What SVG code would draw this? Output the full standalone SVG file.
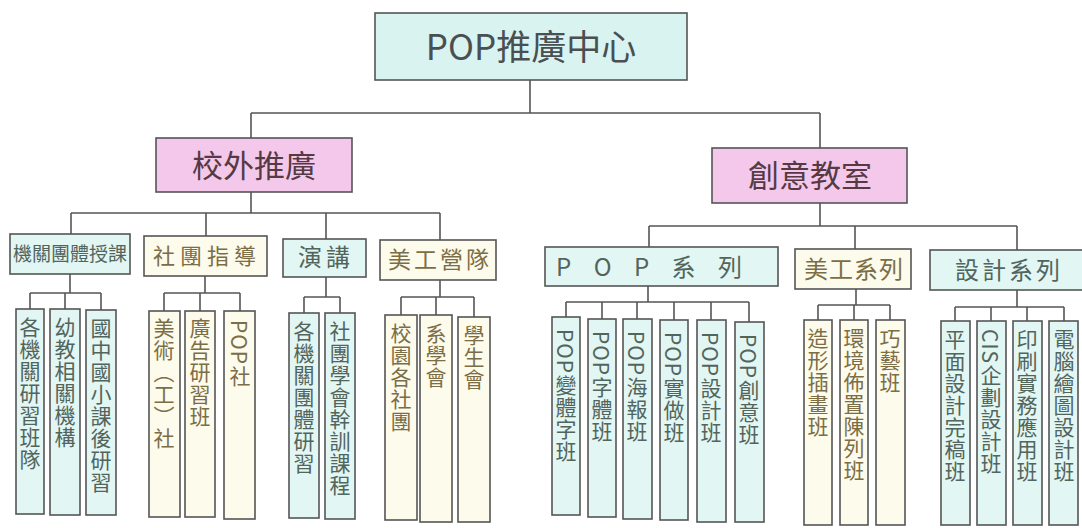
<svg xmlns="http://www.w3.org/2000/svg" width="1082" height="528" viewBox="0 0 1082 528">
<style>
.box{stroke:#555;stroke-width:1.6}
.cy{fill:#e2f6f3}
.cr{fill:#fdfbeb}
.pk{fill:#f4c8ea}
.tp{fill:#d9f3f1}
text{font-family:"Noto Sans CJK TC","Noto Sans CJK SC",sans-serif}
.t1{font-size:35px;fill:#4a4f52;text-anchor:middle}
.t2{font-size:31px;fill:#553a45;text-anchor:middle}
.tc{fill:#52655d;text-anchor:middle}
.tr{fill:#7b6e46;text-anchor:middle}
.v{font-size:21px;writing-mode:vertical-rl;letter-spacing:1px}
.vc{fill:#52655d}
.vr{fill:#7b6e46}
.ln{fill:none;stroke:#555;stroke-width:1.6}
</style>
<rect width="1082" height="528" fill="#fff"/>
<g id="connectors" class="ln">
<path d="M530,80V113M251,113H820M251,113V138M820,113V148"/>
<path d="M251,192V213M71,213H440M71,213V234M206,213V236M326,213V239M440,213V240"/>
<path d="M820,203V226M649,226H1017M649,226V247M855,226V249M1017,226V250"/>
<path d="M70,274V293M30,293H101M30,293V309M65,293V309M101,293V310"/>
<path d="M205,276V293M164,293H240M164,293V311M200,293V311M240,293V311"/>
<path d="M326,277V297M304,297H340M304,297V313M340,297V313"/>
<path d="M440,280V297M401,297H474M401,297V315M436,297V315M474,297V317"/>
<path d="M648,286V302M566,302H749M566,302V317M602,302V319M637,302V319M674,302V320M711,302V320M749,302V322"/>
<path d="M856,289V305M818,305H890M818,305V320M854,305V320M890,305V320"/>
<path d="M1017,290V307M955,307H1064M955,307V321M991,307V321M1027,307V321M1064,307V321"/>
</g>
<g id="root"><rect class="box tp" x="375" y="13" width="312" height="67"/><text class="t1" x="531" y="60">POP推廣中心</text></g>
<g id="n-out"><rect class="box pk" x="156" y="138" width="196" height="54"/><text class="t2" x="254" y="177">校外推廣</text></g>
<g id="n-cre"><rect class="box pk" x="712" y="148" width="195" height="55"/><text class="t2" x="810" y="187">創意教室</text></g>
<g id="a1"><rect class="box cy" x="10" y="234" width="120" height="40"/><text class="tc" x="70" y="261" font-size="19">機關團體授課</text></g>
<g id="a2"><rect class="box cr" x="144" y="236" width="123" height="40"/><text class="tr" x="207" y="264" font-size="22" letter-spacing="5">社團指導</text></g>
<g id="a3"><rect class="box cy" x="283" y="239" width="83" height="38"/><text class="tc" x="326" y="266" font-size="24" letter-spacing="4">演講</text></g>
<g id="a4"><rect class="box cr" x="380" y="240" width="116" height="40"/><text class="tr" x="440" y="268" font-size="23" letter-spacing="3">美工營隊</text></g>
<g id="b1"><rect class="box cy" x="545" y="247" width="233" height="39"/><text class="tc" x="556" y="276" font-size="24" textLength="186" lengthAdjust="spacing" style="text-anchor:start">P O P 系 列</text></g>
<g id="b2"><rect class="box cr" x="795" y="249" width="116" height="40"/><text class="tr" x="854" y="278" font-size="24" letter-spacing="1">美工系列</text></g>
<g id="b3"><rect class="box cy" x="930" y="250" width="160" height="40"/><text class="tc" x="1009" y="279" font-size="24" letter-spacing="3">設計系列</text></g>
<g id="l1"><rect class="box cy" x="16" y="309" width="28" height="205"/><text class="v vc" x="30" y="317">各機關研習班隊</text></g>
<g id="l2"><rect class="box cy" x="50" y="309" width="30" height="206"/><text class="v vc" x="65" y="317">幼教相關機構</text></g>
<g id="l3"><rect class="box cy" x="86" y="310" width="30" height="205"/><text class="v vc" x="101" y="318">國中國小課後研習</text></g>
<g id="l4"><rect class="box cr" x="149" y="311" width="31" height="206"/><text class="v vr" x="164" y="318">美術（工）社</text></g>
<g id="l5"><rect class="box cr" x="185" y="311" width="30" height="206"/><text class="v vr" x="200" y="318">廣告研習班</text></g>
<g id="l6"><rect class="box cr" x="224" y="311" width="31" height="208"/><text class="v vr" x="240" y="320">POP社</text></g>
<g id="l7"><rect class="box cy" x="289" y="313" width="30" height="205"/><text class="v vc" x="304" y="321">各機關團體研習</text></g>
<g id="l8"><rect class="box cy" x="325" y="313" width="30" height="206"/><text class="v vc" x="340" y="321">社團學會幹訓課程</text></g>
<g id="l9"><rect class="box cr" x="385" y="315" width="32" height="205"/><text class="v vr" x="401" y="323">校園各社團</text></g>
<g id="l10"><rect class="box cr" x="420" y="315" width="32" height="207"/><text class="v vr" x="436" y="323">系學會</text></g>
<g id="l11"><rect class="box cr" x="458" y="317" width="32" height="205"/><text class="v vr" x="474" y="325">學生會</text></g>
<g id="l12"><rect class="box cy" x="552" y="317" width="28" height="198"/><text class="v vc" x="566" y="329">POP變體字班</text></g>
<g id="l13"><rect class="box cy" x="588" y="319" width="28" height="198"/><text class="v vc" x="602" y="331">POP字體班</text></g>
<g id="l14"><rect class="box cy" x="623" y="319" width="29" height="200"/><text class="v vc" x="637" y="331">POP海報班</text></g>
<g id="l15"><rect class="box cy" x="660" y="320" width="28" height="200"/><text class="v vc" x="674" y="332">POP實做班</text></g>
<g id="l16"><rect class="box cy" x="697" y="320" width="29" height="202"/><text class="v vc" x="711" y="332">POP設計班</text></g>
<g id="l17"><rect class="box cy" x="735" y="322" width="29" height="200"/><text class="v vc" x="749" y="334">POP創意班</text></g>
<g id="l18"><rect class="box cr" x="804" y="320" width="28" height="205"/><text class="v vr" x="818" y="328">造形插畫班</text></g>
<g id="l19"><rect class="box cr" x="840" y="320" width="28" height="205"/><text class="v vr" x="854" y="328">環境佈置陳列班</text></g>
<g id="l20"><rect class="box cr" x="876" y="320" width="29" height="205"/><text class="v vr" x="890" y="328">巧藝班</text></g>
<g id="l21"><rect class="box cy" x="941" y="321" width="29" height="204"/><text class="v vc" x="955" y="329">平面設計完稿班</text></g>
<g id="l22"><rect class="box cy" x="977" y="321" width="29" height="204"/><text class="v vc" x="991" y="329">CIS企劃設計班</text></g>
<g id="l23"><rect class="box cy" x="1013" y="321" width="29" height="204"/><text class="v vc" x="1027" y="329">印刷實務應用班</text></g>
<g id="l24"><rect class="box cy" x="1049" y="321" width="29" height="204"/><text class="v vc" x="1064" y="329">電腦繪圖設計班</text></g>
</svg>
